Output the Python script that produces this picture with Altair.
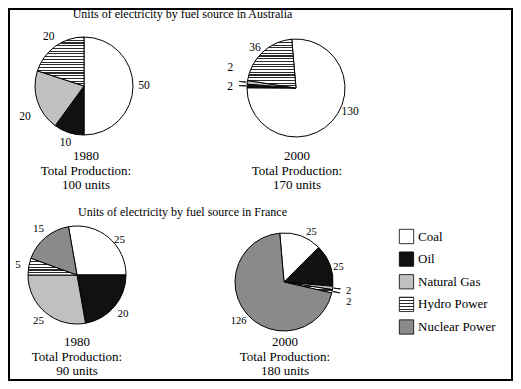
import math
import altair as alt
import pandas as pd

# ---------------- data ----------------
fuels = ["Coal", "Oil", "Natural Gas", "Hydro Power", "Nuclear Power"]
aus_1980 = [50, 10, 20, 20, 0]
aus_2000 = [130, 2, 2, 36, 0]
fra_1980 = [25, 20, 25, 5, 15]
fra_2000 = [25, 25, 2, 2, 126]
countries = ["Australia", "France"]
years = [1980, 2000]
titles = [
    "Units of electricity by fuel source in Australia",
    "Units of electricity by fuel source in France",
]

series = {
    ("Australia", 1980): aus_1980,
    ("Australia", 2000): aus_2000,
    ("France", 1980): fra_1980,
    ("France", 2000): fra_2000,
}

rows = []
for (c, yr), vals in series.items():
    for i, (f, v) in enumerate(zip(fuels, vals)):
        rows.append({"country": c, "year": yr, "fuel": f, "order": i, "value": v})
df = pd.DataFrame(rows)

# ---------------- styles ----------------
OX, OY = 9, 9          # page offset (8px margin + 1px padding)
R = 49
FONT = "'Liberation Serif', 'Times New Roman', 'DejaVu Serif', serif"


def stripes(n, dark="#2a2a2a", light="white", frac=0.42):
    stops = []
    for i in range(n):
        a, b, c = i / n, (i + frac) / n, (i + 1) / n
        stops += [
            {"offset": a, "color": dark},
            {"offset": b, "color": dark},
            {"offset": b, "color": light},
            {"offset": c, "color": light},
        ]
    return {"gradient": "linear", "x1": 0, "x2": 0, "y1": 0, "y2": 1, "stops": stops}


def fill_for(n_stripes):
    fills = {
        "Oil": "#111111",
        "Natural Gas": "#c0c0c0",
        "Hydro Power": stripes(n_stripes),
        "Nuclear Power": "#8a8a8a",
    }
    return alt.FillValue(
        value="white",
        condition=[{"test": f"datum.fuel === '{f}'", "value": v} for f, v in fills.items()],
    )


pie_specs = [
    # country, year, cx, cy, start angle, font size, stripes, label offsets, leaders, caption x, caption y
    ("Australia", 1980, 84, 86, 0, 11.5, 18, {"Natural Gas": (-2, 12)}, [], 86, 156),
    ("Australia", 2000, 296, 88, -5, 11.5, 18,
     {"Coal": (10, -17), "Oil": (-6, 2), "Natural Gas": (-6, -13), "Hydro Power": (0, 4)},
     ["Oil", "Natural Gas"], 297, 156),
    ("France", 1980, 77, 275, -10, 11, 6, {"Coal": (4, 11)}, [], 77, 342),
    ("France", 2000, 284, 282, -5, 10.5, 3,
     {"Coal": (7, 6), "Oil": (-2, 6), "Natural Gas": (5, 2), "Hydro Power": (6, 9)},
     ["Natural Gas", "Hydro Power"], 285, 342),
]

layers = []
for country, year, cx, cy, start_deg, fs, nst, offsets, leaders, capx, capy in pie_specs:
    vals = series[(country, year)]
    total = sum(vals)
    a0 = math.radians(start_deg)
    tscale = alt.Scale(domain=[0, total], range=[a0, a0 + 2 * math.pi])
    base = (
        alt.Chart(df)
        .transform_filter(
            f"datum.country === '{country}' && datum.year === {year} && datum.value > 0"
        )
        .transform_window(cum="sum(value)", sort=[alt.SortField("order")], frame=[None, 0])
        .transform_calculate(start="datum.cum - datum.value", mid="datum.cum - datum.value / 2")
    )
    px = alt.value(cx - OX)
    py = alt.value(cy - OY)
    layers.append(
        base.mark_arc(radius=R, stroke="black", strokeWidth=1).encode(
            theta=alt.Theta("start:Q", scale=tscale),
            theta2="cum:Q",
            fill=fill_for(nst),
            x=px,
            y=py,
        )
    )
    for f, v in zip(fuels, vals):
        if v <= 0:
            continue
        dx, dy = offsets.get(f, (0, 0))
        layers.append(
            base.transform_filter(f"datum.fuel === '{f}'")
            .mark_text(radius=60, dx=dx, dy=dy, font=FONT, fontSize=fs,
                       align="center", baseline="middle", color="black")
            .encode(theta=alt.Theta("mid:Q", scale=tscale), text="value:Q", x=px, y=py)
        )
    for f in leaders:
        layers.append(
            base.transform_filter(f"datum.fuel === '{f}'")
            .mark_arc(radius=R + 1, radius2=R + 8, stroke="black", strokeWidth=0.8, fillOpacity=0)
            .encode(theta=alt.Theta("mid:Q", scale=tscale), theta2="mid:Q", x=px, y=py)
        )
    cap_df = pd.DataFrame({"t": [f"{year}\nTotal Production:\n{total} units"]})
    layers.append(
        alt.Chart(cap_df)
        .mark_text(font=FONT, fontSize=13, lineBreak="\n", lineHeight=14.5,
                   align="center", baseline="middle", color="black")
        .encode(text="t:N", x=alt.value(capx - OX), y=alt.value(capy - OY))
    )

# titles
for t, ty in zip(titles, [14, 212]):
    layers.append(
        alt.Chart(pd.DataFrame({"t": [t]}))
        .mark_text(font=FONT, fontSize=12, align="center", baseline="middle", color="black")
        .encode(text="t:N", x=alt.value(182.5 - OX), y=alt.value(ty - OY))
    )

# legend
leg_df = pd.DataFrame({"fuel": fuels})
leg_y = alt.Y(
    "fuel:N",
    sort=fuels,
    scale=alt.Scale(type="point", domain=fuels, range=[236.5 - OY, 327 - OY], padding=0),
    axis=None,
)
layers.append(
    alt.Chart(leg_df)
    .mark_point(shape="square", size=205, filled=True, stroke="black", strokeWidth=0.8, opacity=1)
    .encode(y=leg_y, x=alt.value(406.5 - OX), fill=fill_for(5))
)
layers.append(
    alt.Chart(leg_df)
    .mark_text(font=FONT, fontSize=13, align="left", baseline="middle", color="black")
    .encode(y=leg_y, x=alt.value(418 - OX), text="fuel:N")
)

chart = (
    alt.layer(*layers)
    .resolve_scale(theta="independent")
    .properties(width=503, height=371, padding=1, autosize=alt.AutoSizeParams(type="none"))
    .configure_view(stroke="black", strokeWidth=2)
)

chart.save("out.html", embed_options={"renderer": "svg", "actions": False})
